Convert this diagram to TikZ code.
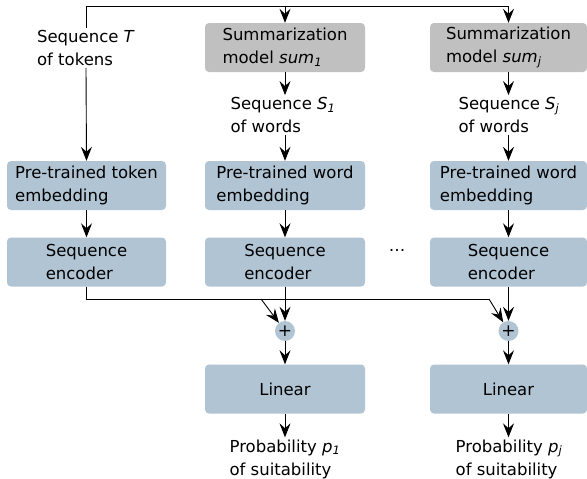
\documentclass[tikz,border=0pt]{standalone}
\usepackage{fontspec}
\setmainfont{DejaVu Sans}
\usetikzlibrary{arrows.meta}
\definecolor{boxblue}{RGB}{176,196,212}
\definecolor{boxgray}{RGB}{192,192,192}
\begin{document}
\begin{tikzpicture}[x=1pt,y=-1pt,
  font=\fontsize{16.5}{23}\selectfont,
  blk/.style={rounded corners=4pt, minimum height=49pt, align=left, inner sep=2pt},
  bluebox/.style={blk, fill=boxblue},
  graybox/.style={blk, fill=boxgray},
  lbl/.style={align=left, inner sep=2pt},
  plusnode/.style={circle, fill=boxblue, minimum size=20pt, inner sep=0pt, font=\fontsize{17}{18}\selectfont},
  conn/.style={line width=0.9pt},
  arr/.style={conn, -{Stealth[length=14pt,width=11pt,inset=5pt]}}]
\useasboundingbox (0,0) rectangle (587,479);
% nodes
\node[graybox, minimum width=160pt] (sum1) at (285,47.5) {Summarization\\model \textit{sum\textsubscript{1}}};
\node[graybox, minimum width=157pt] (sumj) at (508.5,47.5) {Summarization\\model \textit{sum\textsubscript{j}}};
\node[lbl] (seqT) at (86,48) {Sequence \textit{T}\\of tokens};
\node[lbl] (seqS1) at (283,115) {Sequence \textit{S\textsubscript{1}}\\of words};
\node[lbl] (seqSj) at (509,115) {Sequence \textit{S\textsubscript{j}}\\of words};
\node[bluebox, minimum width=159pt] (emb0) at (86.5,185.5) {Pre-trained token\\embedding};
\node[bluebox, minimum width=160pt] (emb1) at (285,185.5) {Pre-trained word\\embedding};
\node[bluebox, minimum width=157pt] (embj) at (508.5,185.5) {Pre-trained word\\embedding};
\node[bluebox, minimum width=159pt] (se0) at (86.5,262) {Sequence\\encoder};
\node[bluebox, minimum width=160pt] (se1) at (285,262) {Sequence\\encoder};
\node[bluebox, minimum width=157pt] (sej) at (508.5,262) {Sequence\\encoder};
\node[anchor=base, inner sep=0pt] (dots) at (397,251) {…};
\node[plusnode] (p1) at (285,331) {+};
\node[plusnode] (pj) at (508.5,331) {+};
\node[bluebox, minimum width=160pt] (lin1) at (285,389) {Linear};
\node[bluebox, minimum width=157pt] (linj) at (508.5,389) {Linear};
\node[lbl] (prob1) at (285,459) {Probability \textit{p\textsubscript{1}}\\of suitability};
\node[lbl] (probj) at (509,459) {Probability \textit{p\textsubscript{j}}\\of suitability};
% coordinates
\coordinate (tl) at (86,6);
\coordinate (tr) at (sumj.north |- tl);
\coordinate (t1) at (sum1.north |- tl);
\coordinate (c0) at (86.5,299);
\coordinate (c1) at (261,299);
\coordinate (c2) at (489,299);
% connectors
\draw[conn] (seqT.north) -- (tl) -- (tr);
\draw[arr] (tr) -- (sumj.north);
\draw[arr] (t1) -- (sum1.north);
\draw[arr] (seqT.south) -- (emb0.north);
\draw[arr] (sum1.south) -- (seqS1.north -| sum1.south);
\draw[arr] (sumj.south) -- (seqSj.north -| sumj.south);
\draw[arr] (seqS1.south -| emb1.north) -- (emb1.north);
\draw[arr] (seqSj.south -| embj.north) -- (embj.north);
\draw[arr] (emb0) -- (se0);
\draw[arr] (emb1) -- (se1);
\draw[arr] (embj) -- (sej);
\draw[arr] (se1) -- (p1);
\draw[arr] (sej) -- (pj);
\draw[conn] (se0.south) -- (c0) -- (c2);
\draw[arr] (c1) -- (p1);
\draw[arr] (c2) -- (pj);
\draw[arr] (p1) -- (lin1);
\draw[arr] (pj) -- (linj);
\draw[arr] (lin1.south) -- (prob1.north -| lin1.south);
\draw[arr] (linj.south) -- (probj.north -| linj.south);
\end{tikzpicture}
\end{document}
